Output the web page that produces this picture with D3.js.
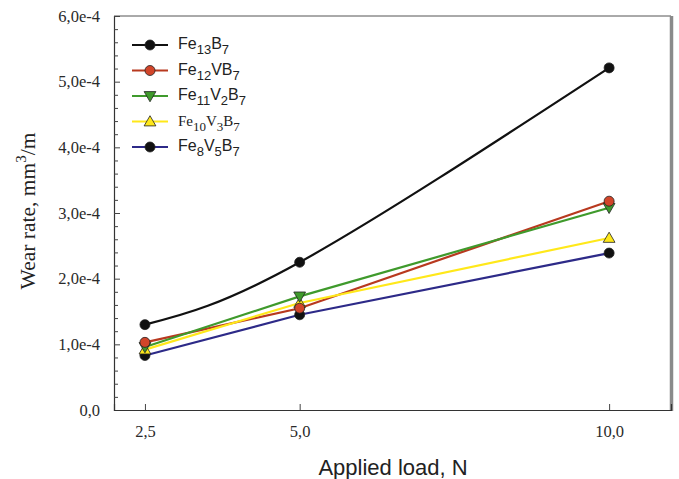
<!DOCTYPE html>
<html>
<head>
<meta charset="utf-8">
<script src="https://cdn.jsdelivr.net/npm/d3@7"></script>
<style>
  body { margin: 0; background: #fff; }
  svg { display: block; }
</style>
</head>
<body>
<svg id="chart" width="679" height="479"></svg>
<script>
// ---- data ----
const loads = [2.5, 5.0, 10.0];
const xTickLabels = ["2,5", "5,0", "10,0"];
const yTicks = [0, 1e-4, 2e-4, 3e-4, 4e-4, 5e-4, 6e-4];
const yTickLabels = ["0,0", "1,0e-4", "2,0e-4", "3,0e-4", "4,0e-4", "5,0e-4", "6,0e-4"];

const seriesNames = [
  [["Fe", ""], ["13", "sub"], ["B", ""], ["7", "sub"]],
  [["Fe", ""], ["12", "sub"], ["VB", ""], ["7", "sub"]],
  [["Fe", ""], ["11", "sub"], ["V", ""], ["2", "sub"], ["B", ""], ["7", "sub"]],
  [["Fe", ""], ["10", "sub"], ["V", ""], ["3", "sub"], ["B", ""], ["7", "sub"]],
  [["Fe", ""], ["8", "sub"], ["V", ""], ["5", "sub"], ["B", ""], ["7", "sub"]]
];
const fe13b7   = [1.30e-4, 2.25e-4, 5.21e-4];
const fe12vb7  = [1.03e-4, 1.55e-4, 3.18e-4];
const fe11v2b7 = [0.96e-4, 1.73e-4, 3.08e-4];
const fe10v3b7 = [0.92e-4, 1.63e-4, 2.62e-4];
const fe8v5b7  = [0.83e-4, 1.45e-4, 2.39e-4];
const seriesValues = [fe13b7, fe12vb7, fe11v2b7, fe10v3b7, fe8v5b7];

const lineColors   = ["#111111", "#b8391f", "#3f9a2c", "#ffe81a", "#2d2a88"];
const markerFills  = ["#111111", "#d2452a", "#3f9a2c", "#ffe81a", "#111111"];
const markerShapes = ["circle", "circle", "triDown", "triUp", "circle"];
const curved       = [true, false, false, false, false];
const legendFonts  = ["Liberation Sans, Arial, sans-serif", "Liberation Sans, Arial, sans-serif",
                      "Liberation Sans, Arial, sans-serif", "Liberation Serif, Times New Roman, serif",
                      "Liberation Sans, Arial, sans-serif"];

// ---- layout ----
const L = 114, R = 671, T = 16, B = 410;
const svg = d3.select("#chart");
const x = d3.scaleLinear().domain([2.0, 11.0]).range([L, R]);
const y = d3.scaleLinear().domain([0, 6e-4]).range([B, T]);

const serif = "Liberation Serif, Times New Roman, serif";
const sans = "Liberation Sans, Arial, sans-serif";

// frame: top and right
svg.append("line").attr("x1", L).attr("x2", R).attr("y1", T).attr("y2", T)
  .attr("stroke", "#555").attr("stroke-width", 1);
svg.append("line").attr("x1", R + 0.5).attr("x2", R + 0.5).attr("y1", T).attr("y2", B + 1)
  .attr("stroke", "#8a8a8a").attr("stroke-width", 3.5);

// y axis (inward ticks)
const yAxis = d3.axisLeft(y).tickValues(yTicks)
  .tickFormat((d, i) => yTickLabels[i]).tickSize(-6).tickPadding(14);
const yg = svg.append("g").attr("transform", `translate(${L},0)`).call(yAxis);
const yMinor = d3.range(0, 6.0001e-4, 0.2e-4).filter((d, i) => i % 5 !== 0);
svg.append("g").attr("transform", `translate(${L},0)`)
  .call(d3.axisLeft(y).tickValues(yMinor).tickSize(-4).tickFormat(""))
  .call(g => g.select(".domain").remove());

// x axis (inward ticks)
const xAxis = d3.axisBottom(x).tickValues(loads)
  .tickFormat((d, i) => xTickLabels[i]).tickSize(-6).tickPadding(15);
const xg = svg.append("g").attr("transform", `translate(0,${B})`).call(xAxis);

svg.selectAll(".domain").attr("stroke", "#333").attr("stroke-width", 1.2);
svg.selectAll(".tick line").attr("stroke", "#444").attr("stroke-width", 1);
svg.selectAll(".tick text").style("font-family", serif).style("font-size", "16.5px").attr("fill", "#2a2a2a");

// axis titles
svg.append("text").attr("x", 393).attr("y", 475).attr("text-anchor", "middle")
  .attr("font-family", sans).attr("font-size", 22).attr("fill", "#222")
  .text("Applied load, N");
const yt = svg.append("text").attr("transform", "translate(35,211) rotate(-90)")
  .attr("text-anchor", "middle").attr("font-family", serif).attr("font-size", 21.5).attr("fill", "#222");
yt.append("tspan").text("Wear rate, mm");
yt.append("tspan").attr("dy", -9).attr("font-size", 15).text("3");
yt.append("tspan").attr("dy", 9).text("/m");

// markers
function drawMarker(g, shape, cx, cy, fill) {
  if (shape === "circle") {
    g.append("circle").attr("cx", cx).attr("cy", cy).attr("r", 5)
      .attr("fill", fill).attr("stroke", "#222").attr("stroke-width", 0.8);
  } else {
    const sym = d3.symbol().type(d3.symbolTriangle).size(60);
    const rot = shape === "triDown" ? 180 : 0;
    g.append("path").attr("d", sym())
      .attr("transform", `translate(${cx},${cy + (shape === "triDown" ? -1 : 1)}) rotate(${rot})`)
      .attr("fill", fill).attr("stroke", "#222").attr("stroke-width", 0.8);
  }
}

// lines
seriesValues.forEach((vals, si) => {
  const pts = loads.map((l, i) => [l, vals[i]]);
  const line = d3.line().x(d => x(d[0])).y(d => y(d[1]))
    .curve(curved[si] ? d3.curveNatural : d3.curveLinear);
  svg.append("path").datum(pts).attr("d", line)
    .attr("fill", "none").attr("stroke", lineColors[si]).attr("stroke-width", 2.2);
});
// markers on top
const mg = svg.append("g");
[4, 3, 2, 1, 0].forEach(si => {
  seriesValues[si].forEach((v, i) => drawMarker(mg, markerShapes[si], x(loads[i]), y(v), markerFills[si]));
});

// legend
const lg = svg.append("g");
seriesNames.forEach((parts, i) => {
  const cy = 45 + i * 25.5;
  lg.append("line").attr("x1", 132).attr("x2", 168).attr("y1", cy).attr("y2", cy)
    .attr("stroke", lineColors[i]).attr("stroke-width", 2.2);
  drawMarker(lg, markerShapes[i], 150, cy, markerFills[i]);
  const t = lg.append("text").attr("x", 178).attr("y", cy + 4)
    .attr("font-family", legendFonts[i]).attr("font-size", i === 3 ? 15 : 16).attr("fill", "#222");
  let prevSub = false;
  parts.forEach(([s, k]) => {
    const sp = t.append("tspan").text(s);
    if (k === "sub") {
      sp.attr("font-size", 13).attr("dy", prevSub ? 0 : 5);
      prevSub = true;
    } else {
      if (prevSub) sp.attr("dy", -5);
      prevSub = false;
    }
  });
});
</script>
</body>
</html>
